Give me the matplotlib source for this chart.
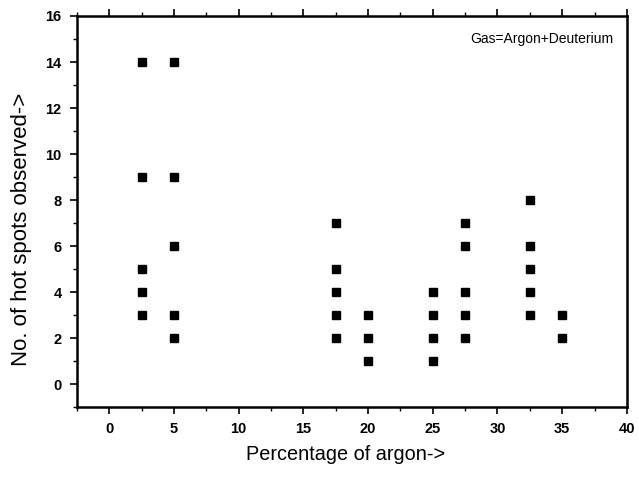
import numpy as np
import matplotlib.pyplot as plt
from matplotlib.ticker import MultipleLocator

plt.rcParams['font.family'] = ['Liberation Sans', 'DejaVu Sans']

# percentage of argon and hot spots observed
argon_pct = [2.5, 2.5, 2.5, 2.5, 2.5,
             5, 5, 5, 5, 5,
             17.5, 17.5, 17.5, 17.5, 17.5,
             20, 20, 20,
             25, 25, 25, 25,
             27.5, 27.5, 27.5, 27.5, 27.5,
             32.5, 32.5, 32.5, 32.5, 32.5,
             35, 35]
hot_spots = [14, 9, 5, 4, 3,
             14, 9, 6, 3, 2,
             7, 5, 4, 3, 2,
             3, 2, 1,
             4, 3, 2, 1,
             7, 6, 4, 3, 2,
             8, 6, 5, 4, 3,
             3, 2]

fig = plt.figure(figsize=(6.39, 4.79), dpi=100)
ax = fig.add_axes([0.1205, 0.150, 0.8605, 0.8166])

ax.plot(argon_pct, hot_spots, linestyle='none', marker='s', markersize=5.8,
        color='black')

ax.set_xlim(-2.5, 40)
ax.set_ylim(-1, 16)
ax.xaxis.set_major_locator(MultipleLocator(5))
ax.xaxis.set_minor_locator(MultipleLocator(2.5))
ax.yaxis.set_major_locator(MultipleLocator(2))
ax.yaxis.set_minor_locator(MultipleLocator(1))

for sp in ax.spines.values():
    sp.set_linewidth(1.8)

ax.tick_params(which='major', direction='out', length=5, width=1.2,
               labelsize=10.5, top=True, right=False, pad=6)
ax.tick_params(which='minor', direction='out', length=3, width=1.0,
               top=True, right=False)
for lbl in ax.get_xticklabels() + ax.get_yticklabels():
    lbl.set_fontweight('bold')

ax.set_xlabel('Percentage of argon->', fontsize=14.3, labelpad=9)
ax.set_ylabel('No. of hot spots observed->', fontsize=16)
ax.yaxis.set_label_coords(-0.082, 0.455)
ax.xaxis.set_label_coords(0.488, -0.098)

ax.text(0.975, 0.96, 'Gas=Argon+Deuterium', transform=ax.transAxes,
        ha='right', va='top', fontsize=10)

fig.savefig('out.png', dpi=100)
